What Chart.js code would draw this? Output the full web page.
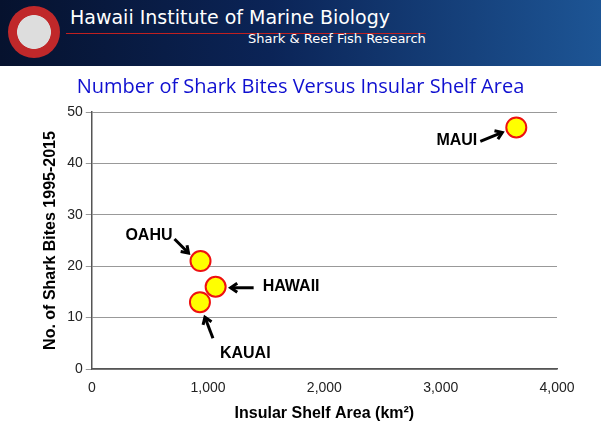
<!DOCTYPE html>
<html>
<head>
<meta charset="utf-8">
<script src="https://cdn.jsdelivr.net/npm/chart.js@4"></script>
<style>
  body { margin: 0; width: 601px; height: 441px; background: #000; overflow: hidden; font-family: "Liberation Sans", Arial, sans-serif; }
  #page { position: absolute; left: 0; top: 0; width: 601px; height: 441px; background: #fff; }
  #header { position: absolute; left: 0; top: 0; width: 601px; height: 66px;
    background: linear-gradient(90deg, #06122e 0%, #0b2457 45%, #1d5595 100%); }
  #logo { position: absolute; left: 8px; top: 6px; width: 52px; height: 52px; border-radius: 50%;
    background: radial-gradient(circle, #ddd 0 45%, #c0282a 47% 100%); }
  #h1 { position: absolute; left: 70px; top: 6px; color: #fff; font-family: "DejaVu Sans", sans-serif; font-size: 19px; }
  #rule { position: absolute; left: 66px; top: 33px; width: 360px; height: 1px; background: #c02020; }
  #h2 { position: absolute; left: 248px; top: 31px; color: #fff; font-family: "DejaVu Sans", sans-serif; font-size: 13px; }
  #title { position: absolute; left: 0; width: 601px; top: 72px; text-align: center; color: #1010d0;
    font-family: "Open Sans", sans-serif; font-size: 20px; }
  #wrap { position: absolute; left: 0; top: 0; width: 601px; height: 441px; }
</style>
</head>
<body>
<div id="page">
  <div id="wrap"><canvas id="chart"></canvas></div>
  <div id="header"><div id="logo"></div><div id="h1">Hawaii Institute of Marine Biology</div><div id="rule"></div><div id="h2">Shark &amp; Reef Fish Research</div></div>
  <div id="title">Number of Shark Bites Versus Insular Shelf Area</div>
</div>
<script>
// Island data
const islands = ['OAHU', 'HAWAII', 'KAUAI', 'MAUI'];
const shelfArea = [935, 1065, 930, 3650];
const sharkBites = [21, 16, 13, 47];

// label placement relative to each point (pixels): label dx, dy, align, arrow from, arrow to
const callouts = {
  OAHU:   { lx: -28, ly: -25, align: 'right', ax: [-26, -22], at: [-12, -8] },
  HAWAII: { lx: 47,  ly: 0,   align: 'left',  ax: [38, 1],    at: [15, 1] },
  KAUAI:  { lx: 20,  ly: 51,  align: 'left',  ax: [13, 36],   at: [5, 15] },
  MAUI:   { lx: -39, ly: 13,  align: 'right', ax: [-36, 14],  at: [-14, 5] }
};

const calloutPlugin = {
  id: 'callouts',
  afterDatasetsDraw(chart) {
    const ctx = chart.ctx;
    const meta = chart.getDatasetMeta(0);
    ctx.save();
    ctx.fillStyle = '#000';
    ctx.strokeStyle = '#000';
    ctx.font = 'bold 16px "Liberation Sans", Arial, sans-serif';
    ctx.textBaseline = 'middle';
    meta.data.forEach((pt, i) => {
      const c = callouts[islands[i]];
      ctx.textAlign = c.align;
      ctx.fillText(islands[i], pt.x + c.lx, pt.y + c.ly);
      const x1 = pt.x + c.ax[0], y1 = pt.y + c.ax[1];
      const x2 = pt.x + c.at[0], y2 = pt.y + c.at[1];
      ctx.lineWidth = 3;
      ctx.beginPath(); ctx.moveTo(x1, y1); ctx.lineTo(x2, y2); ctx.stroke();
      const ang = Math.atan2(y2 - y1, x2 - x1);
      ctx.beginPath();
      ctx.moveTo(x2 - 8 * Math.cos(ang - 0.6), y2 - 8 * Math.sin(ang - 0.6));
      ctx.lineTo(x2, y2);
      ctx.lineTo(x2 - 8 * Math.cos(ang + 0.6), y2 - 8 * Math.sin(ang + 0.6));
      ctx.stroke();
    });
    ctx.restore();
  }
};

new Chart(document.getElementById('chart'), {
  type: 'scatter',
  data: {
    datasets: [{
      data: shelfArea.map((x, i) => ({ x: x, y: sharkBites[i] })),
      backgroundColor: '#ffff00',
      borderColor: '#ee1111',
      borderWidth: 2,
      pointRadius: 10,
      pointHoverRadius: 10
    }]
  },
  options: {
    responsive: true,
    maintainAspectRatio: false,
    animation: false,
    layout: { padding: { top: 112, right: 44, left: 37, bottom: 14 } },
    plugins: { legend: { display: false }, tooltip: { enabled: false } },
    scales: {
      x: {
        min: 0, max: 4000,
        grid: { display: false, drawTicks: true },
        border: { color: '#555', width: 1.5 },
        ticks: { stepSize: 1000, color: '#222', font: { size: 14, family: 'Liberation Sans' },
          callback: v => v.toLocaleString('en-US') },
        title: { display: true, text: 'Insular Shelf Area (km²)', color: '#000',
          font: { size: 16, weight: 'bold', family: 'Liberation Sans' } }
      },
      y: {
        min: 0, max: 50,
        grid: { color: '#999', drawTicks: true, tickLength: 6 },
        border: { color: '#555', width: 1.5 },
        ticks: { stepSize: 10, color: '#222', font: { size: 14, family: 'Liberation Sans' } },
        title: { display: true, text: 'No. of Shark Bites 1995-2015', color: '#000',
          font: { size: 16, weight: 'bold', family: 'Liberation Sans' } }
      }
    }
  },
  plugins: [calloutPlugin]
});
</script>
</body>
</html>
